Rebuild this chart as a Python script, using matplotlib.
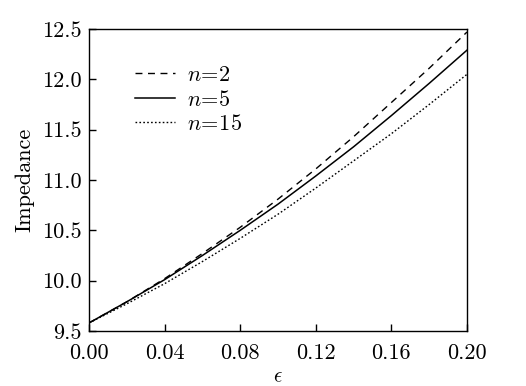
import matplotlib
matplotlib.use("Agg")
import matplotlib.pyplot as plt

# 글꼴 설정 (Computer Modern 느낌)
plt.rcParams['font.family'] = 'cmr10'
plt.rcParams['mathtext.fontset'] = 'cm'
plt.rcParams['axes.formatter.use_mathtext'] = True

# 데이터
eps = [0.00, 0.02, 0.04, 0.06, 0.08, 0.10, 0.12, 0.14, 0.16, 0.18, 0.20]
imp_n2 = [9.58, 9.79, 10.02, 10.27, 10.53, 10.81, 11.11, 11.43, 11.77, 12.11, 12.47]
imp_n5 = [9.58, 9.79, 10.01, 10.25, 10.50, 10.76, 11.04, 11.33, 11.64, 11.96, 12.29]
imp_n15 = [9.58, 9.77, 9.97, 10.19, 10.42, 10.66, 10.92, 11.19, 11.46, 11.75, 12.05]
labels = [r'$n\!=\!2$', r'$n\!=\!5$', r'$n\!=\!15$']
x_ticks = [0.00, 0.04, 0.08, 0.12, 0.16, 0.20]
y_ticks = [9.5, 10.0, 10.5, 11.0, 11.5, 12.0, 12.5]

fig = plt.figure(figsize=(5.26, 3.86), dpi=100)
ax = fig.add_axes([89 / 526, 1 - 331 / 386, 378 / 526, 302 / 386])

ax.plot(eps, imp_n2, color='black', lw=1.0, linestyle=(0, (5, 4)), label=labels[0])
ax.plot(eps, imp_n5, color='black', lw=1.1, linestyle='-', label=labels[1])
ax.plot(eps, imp_n15, color='black', lw=1.0, linestyle=(0, (1.2, 1.6)), label=labels[2])

ax.set_xlim(0, 0.2)
ax.set_ylim(9.5, 12.5)
ax.set_xticks(x_ticks)
ax.set_yticks(y_ticks)
ax.set_xticklabels(['%.2f' % t for t in x_ticks])
ax.set_yticklabels(['%.1f' % t for t in y_ticks])
ax.tick_params(direction='in', length=5, width=1, labelsize=16, top=False, right=False)
ax.tick_params(axis='x', pad=9)
ax.tick_params(axis='y', pad=5)
for sp in ax.spines.values():
    sp.set_linewidth(1.0)

ax.set_xlabel(r'$\epsilon$', fontsize=15, labelpad=4)
ax.set_ylabel('Impedance', fontsize=16, labelpad=6)

leg = ax.legend(loc='upper left', bbox_to_anchor=(0.07, 0.945), frameon=False, fontsize=16,
                handlelength=1.8, handletextpad=0.5, labelspacing=0.2)

fig.savefig('out.png', dpi=100)
